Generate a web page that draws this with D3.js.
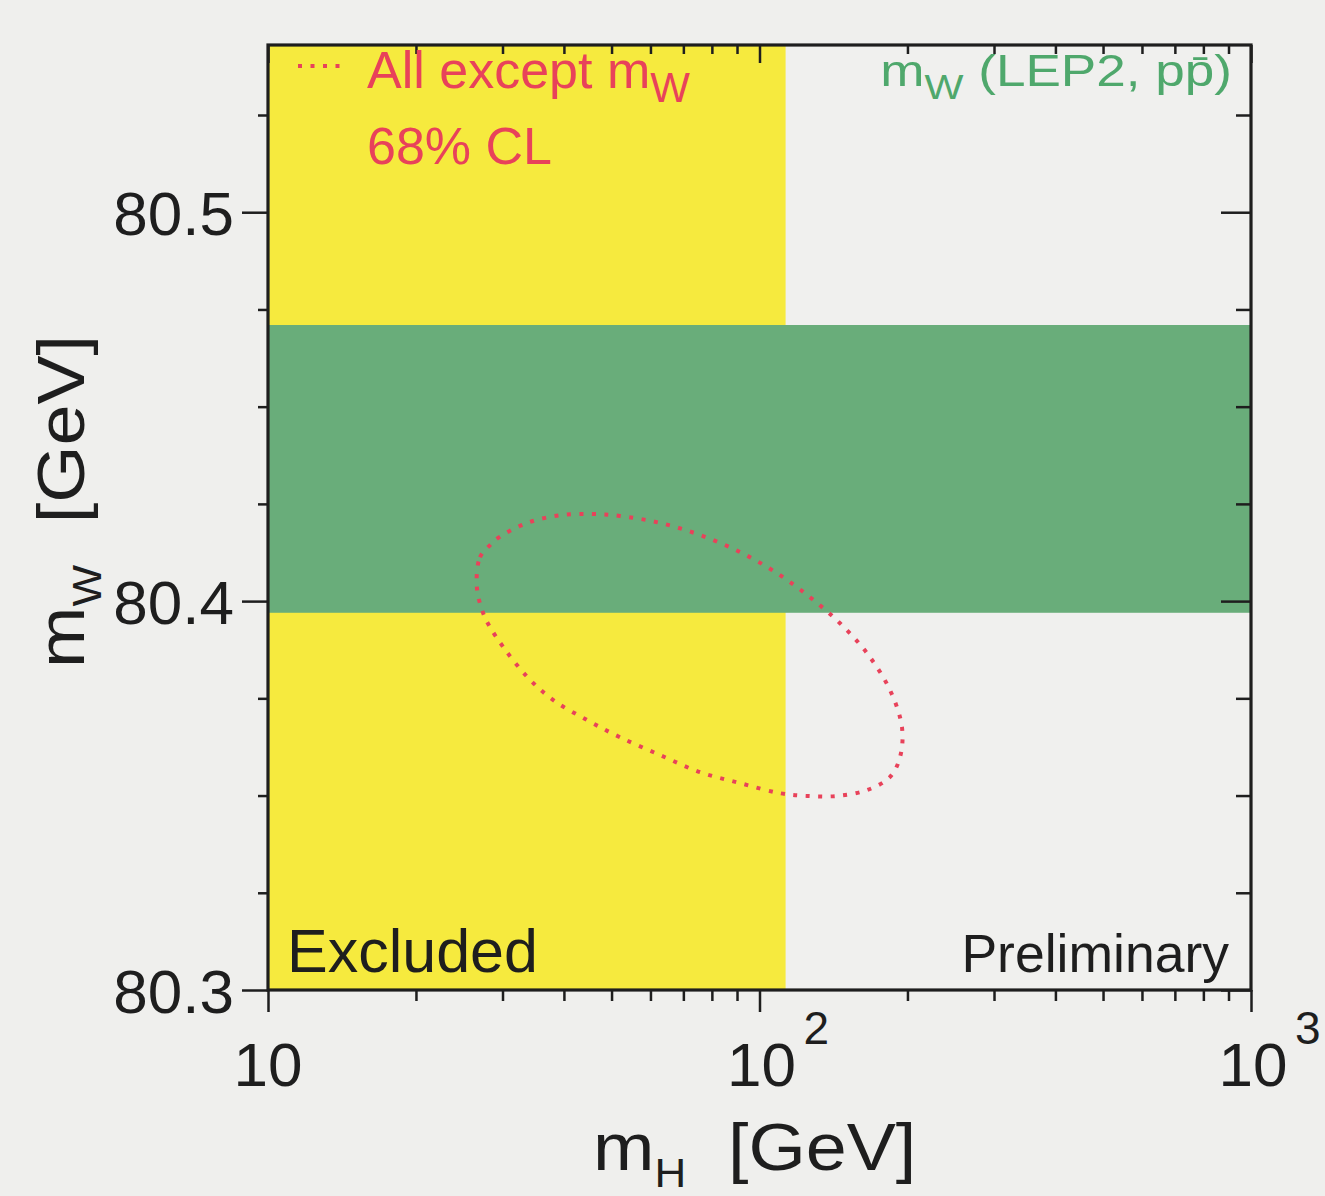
<!DOCTYPE html>
<html><head><meta charset="utf-8">
<script src="https://cdn.jsdelivr.net/npm/d3@7"></script>
<style>
html,body{margin:0;padding:0;background:#efefed;}
svg{display:block;font-family:"Liberation Sans",Arial,Helvetica,sans-serif;}
</style></head>
<body><svg id="c" width="1325" height="1196"></svg>
<script>
// ---- data ----
const xDomain = [10, 1000];
const yDomain = [80.3, 80.543];
const xMajorTicks = [10, 100, 1000];
const xMajorLabels = [["10",""],["10","2"],["10","3"]];
const xMinorTicks = [20,30,40,50,60,70,80,90,200,300,400,500,600,700,800,900];
const yMajorTicks = [80.3, 80.4, 80.5];
const yMajorLabels = ["80.3","80.4","80.5"];
const yMinorTicks = [80.325,80.35,80.375,80.425,80.45,80.475,80.525];
const excludedMH = [10, 113];          // LEP direct search exclusion (GeV)
const mwBand = [80.397, 80.471];       // mW (LEP2, ppbar) band
// 68% CL contour, "All except mW": [mH, mW]
const contourMH = [26.6,27.0,28.3,29.6,33.7,39.3,45.8,52.0,62.8,75.7,91.3,108.5,126.7,145.8,165.5,184.3,194.9,193.2,184.3,165.5,143.8,124.9,110.1,91.3,75.7,62.8,52.0,44.6,38.0,33.7,30.1,28.3,27.4];
const contourMW = [80.4037,80.4113,80.4144,80.4165,80.4201,80.4221,80.4224,80.4219,80.4201,80.4170,80.4126,80.4072,80.4010,80.3943,80.3866,80.3771,80.3676,80.3599,80.3548,80.3514,80.3499,80.3499,80.3506,80.3532,80.3560,80.3604,80.3650,80.3694,80.3746,80.3805,80.3882,80.3933,80.3969];

// ---- layout ----
const L=268, R=1251, T=45, B=990;
const svg=d3.select("#c");
const x=d3.scaleLog().domain(xDomain).range([L,R]);
const y=d3.scaleLinear().domain(yDomain).range([B,T]);

const yellow="#f6ea3e", green="#69ad7a", red="#e8425a", dark="#1e1e1e";

svg.append("rect").attr("x",L).attr("y",T).attr("width",R-L).attr("height",B-T).attr("fill","#f0f0ee");
svg.append("rect").attr("x",x(excludedMH[0])).attr("y",T)
  .attr("width",x(excludedMH[1])-x(excludedMH[0])).attr("height",B-T).attr("fill",yellow);
svg.append("rect").attr("x",L).attr("y",y(mwBand[1]))
  .attr("width",R-L).attr("height",y(mwBand[0])-y(mwBand[1])).attr("fill",green);

const pts=contourMH.map((m,i)=>[m,contourMW[i]]);
svg.append("path").datum(pts)
  .attr("d",d3.line().x(d=>x(d[0])).y(d=>y(d[1])).curve(d3.curveCatmullRomClosed))
  .attr("fill","none").attr("stroke",red).attr("stroke-width",4)
  .attr("stroke-dasharray","4,8.5");

// ---- axes ----
function styleAxis(g){g.select(".domain").remove();g.selectAll("line").attr("stroke",dark).attr("stroke-width",2.5);g.selectAll("text").remove();}
// bottom (outward)
svg.append("g").attr("transform",`translate(0,${B})`).call(d3.axisBottom(x).tickValues(xMajorTicks).tickSize(22)).call(styleAxis);
svg.append("g").attr("transform",`translate(0,${B})`).call(d3.axisBottom(x).tickValues(xMinorTicks).tickSize(11)).call(styleAxis);
// top (inward)
svg.append("g").attr("transform",`translate(0,${T})`).call(d3.axisBottom(x).tickValues(xMajorTicks).tickSize(18)).call(styleAxis);
svg.append("g").attr("transform",`translate(0,${T})`).call(d3.axisBottom(x).tickValues(xMinorTicks).tickSize(9)).call(styleAxis);
// left (outward)
svg.append("g").attr("transform",`translate(${L},0)`).call(d3.axisLeft(y).tickValues(yMajorTicks).tickSize(26)).call(styleAxis);
svg.append("g").attr("transform",`translate(${L},0)`).call(d3.axisLeft(y).tickValues(yMinorTicks).tickSize(10)).call(styleAxis);
// right (inward)
svg.append("g").attr("transform",`translate(${R},0)`).call(d3.axisLeft(y).tickValues(yMajorTicks).tickSize(30)).call(styleAxis);
svg.append("g").attr("transform",`translate(${R},0)`).call(d3.axisLeft(y).tickValues(yMinorTicks).tickSize(15)).call(styleAxis);

// frame
svg.append("rect").attr("x",L).attr("y",T).attr("width",R-L).attr("height",B-T)
  .attr("fill","none").attr("stroke",dark).attr("stroke-width",3.2);

// tick labels
xMajorTicks.forEach((v,i)=>{
  const sup=xMajorLabels[i][1];
  svg.append("text").attr("x",sup?x(v)+2:x(v)).attr("y",1086).attr("text-anchor","middle")
    .attr("font-size",62).attr("fill",dark).text(xMajorLabels[i][0]);
  if(sup){
    svg.append("text").attr("x",x(v)+44).attr("y",1044).attr("font-size",46).attr("fill",dark).text(sup);
  }
});
yMajorTicks.forEach((v,i)=>{
  svg.append("text").attr("x",234).attr("y",y(v)+23).attr("text-anchor","end")
    .attr("font-size",62).attr("fill",dark).text(yMajorLabels[i]);
});

// axis titles
const xt=svg.append("text").attr("transform","translate(593,1170) scale(1.1,1)").attr("font-size",67).attr("fill",dark);
xt.append("tspan").text("m");
xt.append("tspan").attr("dy",17).attr("font-size",40).text("H");
xt.append("tspan").attr("dy",-17).attr("dx",38).text("[GeV]");

const yt=svg.append("text").attr("transform","translate(84,668) rotate(-90) scale(1.1,1)").attr("font-size",67).attr("fill",dark);
yt.append("tspan").text("m");
yt.append("tspan").attr("dy",17).attr("font-size",40).text("W");
yt.append("tspan").attr("dy",-17).attr("dx",38).text("[GeV]");

// annotations
svg.append("text").attr("x",287).attr("y",972).attr("font-size",61).attr("fill",dark).text("Excluded");
svg.append("text").attr("x",1229).attr("y",972).attr("text-anchor","end").attr("font-size",53.5).attr("fill",dark).text("Preliminary");

svg.append("line").attr("x1",298).attr("x2",348).attr("y1",66).attr("y2",66)
  .attr("stroke",red).attr("stroke-width",4).attr("stroke-dasharray","4,8.5");
const lg=svg.append("text").attr("x",367).attr("y",88).attr("font-size",52).attr("fill",red);
lg.append("tspan").text("All except m");
lg.append("tspan").attr("dy",14).attr("font-size",42).text("W");
svg.append("text").attr("x",367).attr("y",164).attr("font-size",52).attr("fill",red).text("68% CL");

const gt=svg.append("text").attr("transform","translate(1232,86) scale(1.18,1)").attr("text-anchor","end").attr("font-size",45).attr("fill","#4fa86c");
gt.append("tspan").text("m");
gt.append("tspan").attr("dy",13).attr("font-size",35).text("W");
gt.append("tspan").attr("dy",-13).text(" (LEP2, pp\u0304)");
</script></body></html>
